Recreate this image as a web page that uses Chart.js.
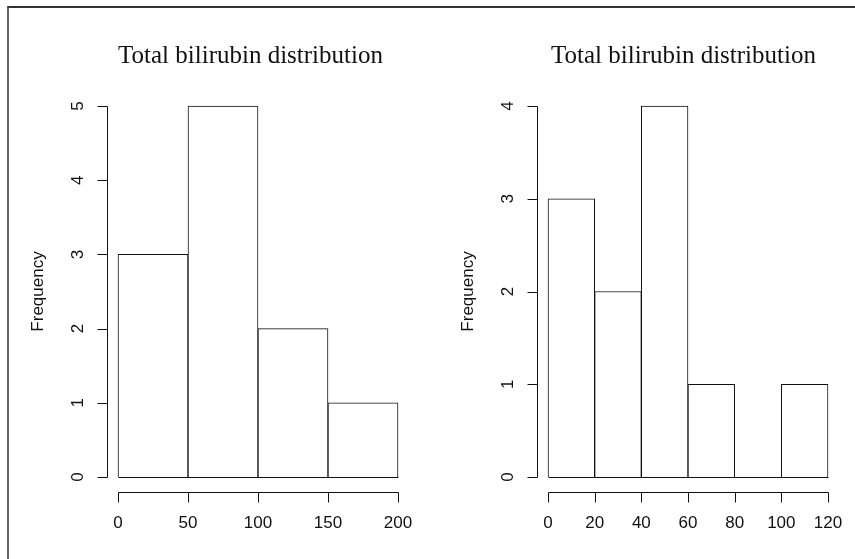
<!DOCTYPE html>
<html>
<head>
<meta charset="utf-8">
<script src="https://cdn.jsdelivr.net/npm/chart.js@4/dist/chart.umd.min.js"></script>
<style>
  html, body { margin: 0; padding: 0; background: #fff; }
  body { width: 855px; height: 559px; position: relative; overflow: hidden; }
  /* the picture only has a top and a left frame line */
  #frame {
    position: absolute; left: 7px; top: 6px; right: 0; bottom: 0;
    border-top: 2px solid #333; border-left: 2px solid #666;
  }
  .panel { position: absolute; top: 0; height: 559px; }
  #left { left: 0; width: 427px; }
  #right { left: 427px; width: 428px; }
</style>
</head>
<body>
<div id="frame"></div>
<div class="panel" id="left"><canvas id="histLeft" width="427" height="559"></canvas></div>
<div class="panel" id="right"><canvas id="histRight" width="428" height="559"></canvas></div>
<script>
// ---- data ----
const titleText = 'Total bilirubin distribution';
const yLabel = 'Frequency';

// left histogram: breaks of 50
const leftBreaks = [0, 50, 100, 150, 200];
const leftCounts = [3, 5, 2, 1];
const leftXTicks = [0, 50, 100, 150, 200];
const leftYTicks = [0, 1, 2, 3, 4, 5];

// right histogram: breaks of 20
const rightBreaks = [0, 20, 40, 60, 80, 100, 120];
const rightCounts = [3, 2, 4, 1, 0, 1];
const rightXTicks = [0, 20, 40, 60, 80, 100, 120];
const rightYTicks = [0, 1, 2, 3, 4];

const INK = '#111';
const SANS = '"Liberation Sans", Arial, sans-serif';
const SERIF = '"Liberation Serif", "Times New Roman", serif';

/* =============================================
   R-style axes: detached lines spanning first..last tick,
   outward tick marks, rotated y labels
   ============================================= */
const rAxes = {
  id: 'rAxes',
  afterDatasetsDraw(chart, args, o) {
    const { ctx, scales: { x, y }, chartArea } = chart;
    const px = v => Math.round(x.getPixelForValue(v)) + 0.5;
    const py = v => Math.round(y.getPixelForValue(v)) + 0.5;
    ctx.save();
    ctx.strokeStyle = INK;
    ctx.fillStyle = INK;
    ctx.lineWidth = 1;

    // bar bottoms (and zero-height bins) as one line on the baseline
    ctx.beginPath();
    ctx.moveTo(px(o.breaks[0]), py(0));
    ctx.lineTo(px(o.breaks[o.breaks.length - 1]), py(0));
    ctx.stroke();

    // x axis
    const ax = Math.round(chartArea.bottom) + 0.5;
    const xt = o.xTicks;
    ctx.beginPath();
    ctx.moveTo(px(xt[0]), ax);
    ctx.lineTo(px(xt[xt.length - 1]), ax);
    xt.forEach(v => { ctx.moveTo(px(v), ax); ctx.lineTo(px(v), ax + 10); });
    ctx.stroke();
    ctx.font = '17px ' + SANS;
    ctx.textAlign = 'center';
    ctx.textBaseline = 'middle';
    xt.forEach(v => ctx.fillText(String(v), x.getPixelForValue(v), ax + 31));

    // y axis
    const ay = Math.round(chartArea.left) + 0.5;
    const yt = o.yTicks;
    ctx.beginPath();
    ctx.moveTo(ay, py(yt[0]));
    ctx.lineTo(ay, py(yt[yt.length - 1]));
    yt.forEach(v => { ctx.moveTo(ay, py(v)); ctx.lineTo(ay - 10, py(v)); });
    ctx.stroke();
    yt.forEach(v => {
      ctx.save();
      ctx.translate(ay - 29, y.getPixelForValue(v));
      ctx.rotate(-Math.PI / 2);
      ctx.fillText(String(v), 0, 0);
      ctx.restore();
    });

    // y title
    ctx.save();
    ctx.translate(ay - 69, (chartArea.top + chartArea.bottom) / 2);
    ctx.rotate(-Math.PI / 2);
    ctx.fillText(yLabel, 0, 0);
    ctx.restore();

    // main title
    ctx.font = '25px ' + SERIF;
    ctx.fillStyle = '#111';
    ctx.textBaseline = 'alphabetic';
    ctx.fillText(titleText, o.titleX, 63);
    ctx.restore();
  }
};

function makeHist(id, breaks, counts, xTicks, yTicks, pad, titleX) {
  const lo = breaks[0], hi = breaks[breaks.length - 1];
  const ext = (hi - lo) * 0.04;                       // R's 4% axis extension
  const yMax = yTicks[yTicks.length - 1];
  const points = counts.map((c, i) => ({ x: (breaks[i] + breaks[i + 1]) / 2, y: c }));

  return new Chart(document.getElementById(id), {
    type: 'bar',
    data: {
      datasets: [{
        data: points,
        backgroundColor: '#fff',
        borderColor: INK,
        borderWidth: 1,
        borderSkipped: 'start',
        barPercentage: 1,
        categoryPercentage: 1,
      }],
    },
    options: {
      responsive: false,
      animation: false,
      layout: { padding: pad },
      plugins: {
        legend: { display: false },
        title: { display: false },
        tooltip: { enabled: false },
        rAxes: { breaks, xTicks, yTicks, titleX },
      },
      scales: {
        x: {
          type: 'linear',
          display: false,
          offset: false,
          min: lo - ext,
          max: hi + ext,
          afterBuildTicks: s => { s.ticks = xTicks.map(v => ({ value: v })); },
        },
        y: {
          display: false,
          min: -yMax * 0.04,
          max: yMax * 1.04,
          afterBuildTicks: s => { s.ticks = yTicks.map(v => ({ value: v })); },
        },
      },
    },
    plugins: [rAxes],
  });
}

makeHist('histLeft', leftBreaks, leftCounts, leftXTicks, leftYTicks,
  { left: 106.8, right: 17.8, top: 91.2, bottom: 67.2 }, 250.5);
makeHist('histRight', rightBreaks, rightCounts, rightXTicks, rightYTicks,
  { left: 109.8, right: 15.8, top: 91.2, bottom: 67.2 }, 256.5);
</script>
</body>
</html>
